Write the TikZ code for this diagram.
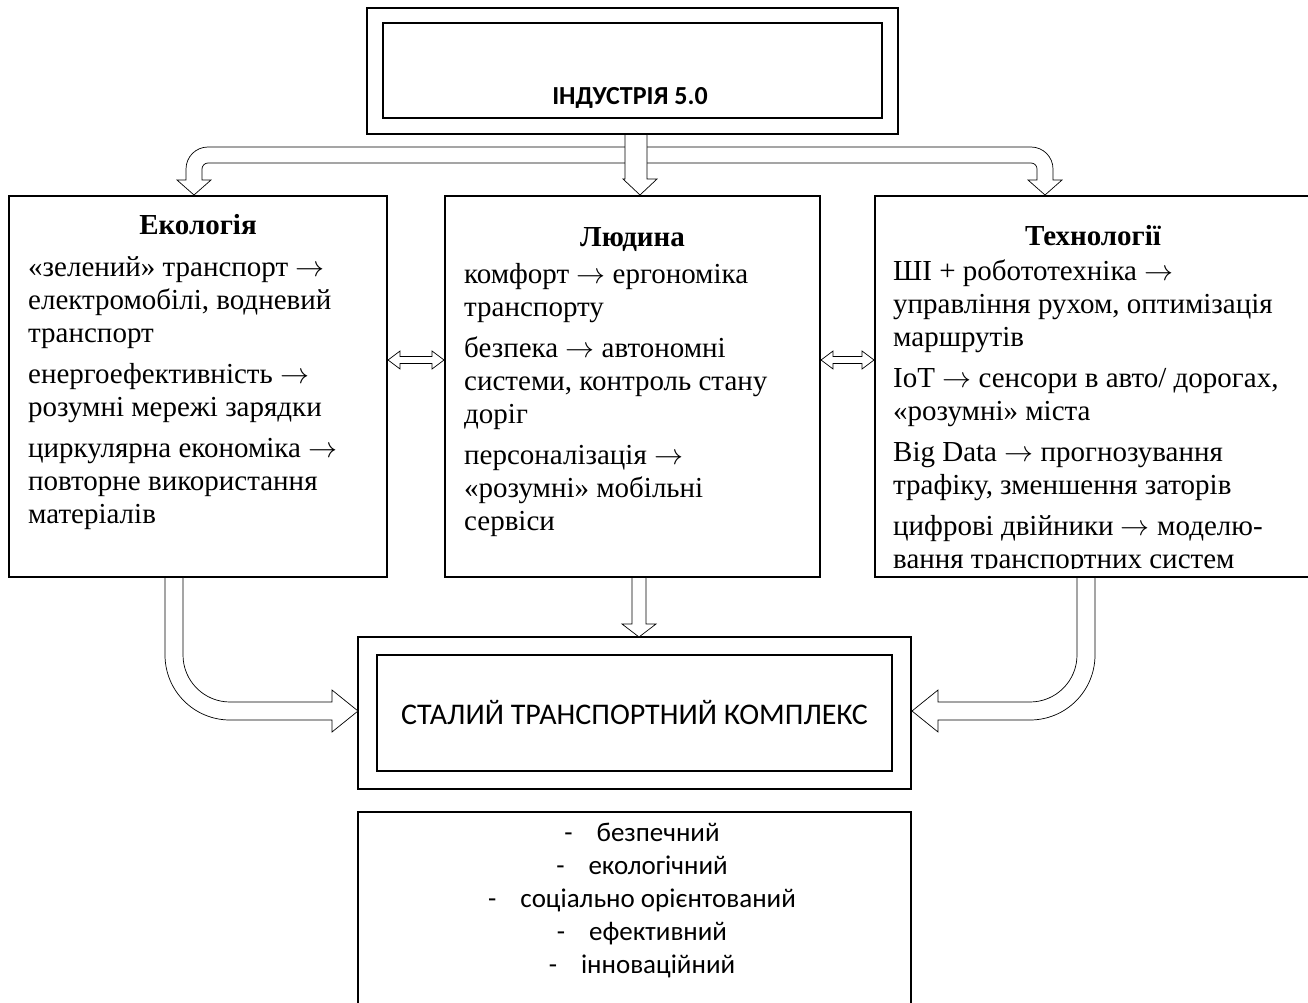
\RequirePackage{fix-cm}
\documentclass[tikz,border=0pt]{standalone}
\usepackage{fontspec}
\setmainfont{Liberation Serif}
\newfontfamily\calibri{Carlito}
\usetikzlibrary{calc}
\newcommand\rarr{\ensuremath{\rightarrow}}
\begin{document}
\begin{tikzpicture}[x=1pt,y=1pt,
  box/.style={draw, line width=1.1pt, inner sep=0pt},
  barrow/.style={draw, line width=0.7pt, fill=white, line join=miter},
  body/.style={inner sep=0pt, anchor=north west, align=left, font=\fontsize{29}{33}\selectfont},
  ttl/.style={inner sep=0pt, anchor=base, font=\fontsize{29}{33}\selectfont\bfseries},
  sans/.style={inner sep=0pt, font=\calibri\fontsize{30}{33}\selectfont},
]
\useasboundingbox (0,0) rectangle (1308,-1003);

% boxes
\node[box, minimum width=531, minimum height=126] (topout) at (632.5,-71) {};
\node[box, minimum width=499, minimum height=95] (topin) at (632.5,-70.5) {};
\node[box, minimum width=378, minimum height=381] (eco) at (198,-386.5) {};
\node[box, minimum width=375, minimum height=381] (human) at (632.5,-386.5) {};
\node[box, minimum width=436, minimum height=381] (tech) at (1093,-386.5) {};
\node[box, minimum width=553, minimum height=152] (goalout) at (634.5,-713) {};
\node[box, minimum width=515, minimum height=116] (goalin) at (634.5,-713) {};
\node[box, minimum width=553, minimum height=203] (list) at (634.5,-913.5) {};

% top text
\node[inner sep=0pt, anchor=base, font=\calibri\fontsize{26}{30}\selectfont\bfseries] (ind) at (630,-105) {ІНДУСТРІЯ 5.0};

% top block arrows
\draw[barrow] (186,-180) -- (177,-180) -- (194,-195) -- (211,-180) -- (202,-180) -- (202,-169)
  arc[start angle=180, end angle=90, radius=6] -- (1031,-163)
  arc[start angle=90, end angle=0, radius=6] -- (1037,-180) -- (1028,-180) -- (1045,-195) -- (1062,-180) -- (1053,-180) -- (1053,-169)
  arc[start angle=0, end angle=90, radius=22] -- (208,-147)
  arc[start angle=90, end angle=180, radius=22] -- cycle;
\draw[barrow] ($(topout.south)+(-7.5,0)$) -- (625,-179) -- (623,-179) -- (640,-195) -- (657,-179) -- (647,-179) -- ($(topout.south)+(14.5,0)$) -- cycle;

% titles
\node[ttl] (ecot) at (198,-234) {Екологія};
\node[ttl] (humant) at (632.5,-246) {Людина};
\node[ttl] (techt) at (1093,-245) {Технології};

% body texts
\node[body] (ecob) at (28,-253) {\strut«зелений» транспорт \rarr\\
електромобілі, водневий\\
транспорт\\[8pt]
енергоефективність \rarr\\
розумні мережі зарядки\\[8pt]
циркулярна економіка \rarr\\
повторне використання\\
матеріалів};

\node[body] (humanb) at (464,-260) {\strut комфорт \rarr{} ергономіка\\
транспорту\\[8pt]
безпека \rarr{} автономні\\
системи, контроль стану\\
доріг\\[8pt]
персоналізація \rarr\\
«розумні» мобільні\\
сервіси};

\begin{scope}
\clip (870,-190) rectangle (1310,-568);
\node[body] (techb) at (893,-257) {\strut ШІ + робототехніка \rarr\\
управління рухом, оптимізація\\
маршрутів\\[8pt]
IoT \rarr{} сенсори в авто/ дорогах,\\
«розумні» міста\\[8pt]
Big Data \rarr{} прогнозування\\
трафіку, зменшення заторів\\[8pt]
цифрові двійники \rarr{} моделю-\\
вання транспортних систем};
\end{scope}

% double arrows
\coordinate (d1a) at (388,-360);
\coordinate (d1b) at (444,-360);
\draw[barrow] (d1a) -- ++(12,9) -- ++(0,-5.5) -- (432,-356.5) -- ++(0,5.5) -- (d1b) -- (432,-369) -- ++(0,5.5) -- (400,-363.5) -- ++(0,-5.5) -- cycle;
\coordinate (d2a) at (821,-360);
\coordinate (d2b) at (874,-360);
\draw[barrow] (d2a) -- ++(12,9) -- ++(0,-5.5) -- (862,-356.5) -- ++(0,5.5) -- (d2b) -- (862,-369) -- ++(0,5.5) -- (833,-363.5) -- ++(0,-5.5) -- cycle;

% middle down arrow
\draw[barrow] (632,-577.5) -- (632,-624) -- (622,-624) -- (639,-637) -- (656,-624) -- (646,-624) -- (646,-577.5) -- cycle;

% left curved arrow
\draw[barrow] (165,-577.5) -- (165,-655) arc[start angle=180, end angle=270, radius=65] -- (332,-720) -- (332,-732) -- (358,-711) -- (332,-690) -- (332,-702) -- (230,-702) arc[start angle=270, end angle=180, radius=47] -- (183,-577.5) -- cycle;

% right curved arrow
\draw[barrow] (1095,-577.5) -- (1095,-655) arc[start angle=0, end angle=-90, radius=65] -- (938,-720) -- (938,-732) -- (912,-711) -- (938,-690) -- (938,-702) -- (1030,-702) arc[start angle=-90, end angle=0, radius=47] -- (1077,-577.5) -- cycle;

% goal text
\node[sans] (goalt) at (goalin.center) {СТАЛИЙ ТРАНСПОРТНИЙ КОМПЛЕКС};

% list text
\node[inner sep=0pt, align=center, font=\calibri\fontsize{27}{33}\selectfont] (listt) at (642,-901) {-\hspace{24pt}безпечний\\
-\hspace{24pt}екологічний\\
-\hspace{24pt}соціально орієнтований\\
-\hspace{24pt}ефективний\\
-\hspace{24pt}інноваційний};
\end{tikzpicture}
\end{document}
